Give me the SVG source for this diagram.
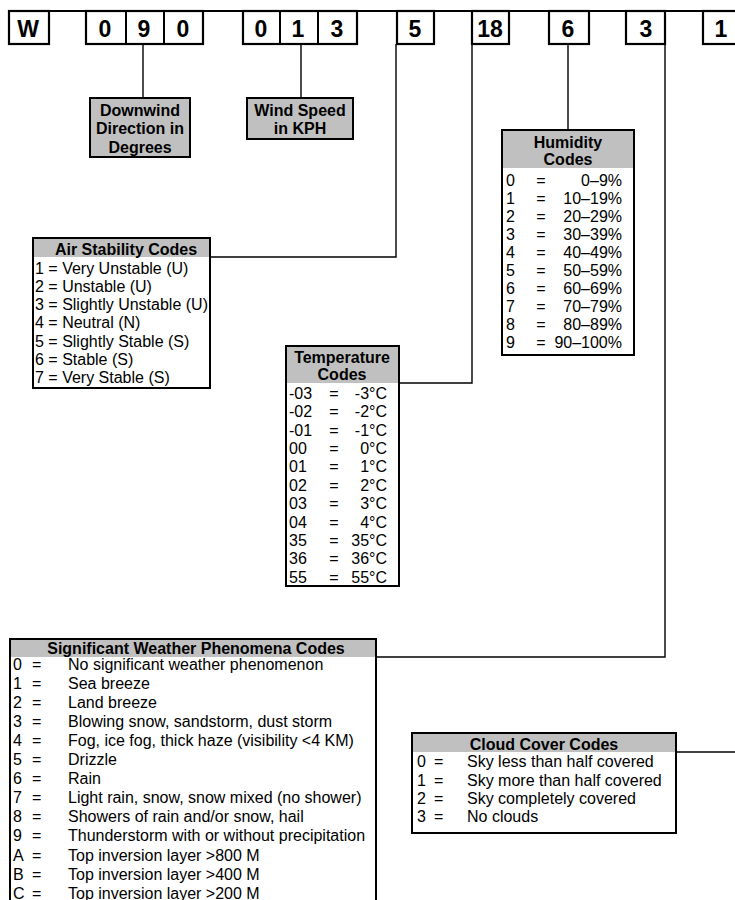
<svg xmlns="http://www.w3.org/2000/svg" width="735" height="900" viewBox="0 0 735 900">
<style>
text{font-family:"Liberation Sans",Arial,sans-serif;fill:#000}
.code{font-size:23px;font-weight:bold;text-anchor:middle}
.hdr{font-size:16px;font-weight:bold;text-anchor:middle}
.row{font-size:16px}
.end{text-anchor:end}
.mid{text-anchor:middle}
.box{fill:#fff;stroke:#000;stroke-width:2.2}
.div{stroke:#000;stroke-width:2}
.cbox{fill:#fff;stroke:#000;stroke-width:2}
.gray{fill:#c0c0c0}
.ln{fill:none;stroke:#000;stroke-width:1.4}
</style>
<rect width="735" height="900" fill="#fff"/>

<g id="code-row">
<line x1="8" y1="11" x2="735" y2="11" stroke="#000" stroke-width="2.2"/>
<rect class="box" x="9" y="11" width="40" height="33"/>
<text class="code" x="28" y="37">W</text>
<rect class="box" x="86" y="11" width="117" height="33"/>
<line class="div" x1="126" y1="11" x2="126" y2="44"/>
<line class="div" x1="164" y1="11" x2="164" y2="44"/>
<text class="code" x="105" y="37">0</text>
<text class="code" x="144" y="37">9</text>
<text class="code" x="183" y="37">0</text>
<rect class="box" x="243" y="11" width="114" height="33"/>
<line class="div" x1="280" y1="11" x2="280" y2="44"/>
<line class="div" x1="318" y1="11" x2="318" y2="44"/>
<text class="code" x="261" y="37">0</text>
<text class="code" x="298" y="37">1</text>
<text class="code" x="337" y="37">3</text>
<rect class="box" x="397" y="11" width="37" height="33"/>
<text class="code" x="415" y="37">5</text>
<rect class="box" x="472" y="11" width="37" height="33"/>
<text class="code" x="490" y="37">18</text>
<rect class="box" x="549" y="11" width="40" height="33"/>
<text class="code" x="568" y="37">6</text>
<rect class="box" x="626" y="11" width="39" height="33"/>
<text class="code" x="646" y="37">3</text>
<rect class="box" x="703" y="11" width="40" height="33"/>
<text class="code" x="721" y="37">1</text>
</g>

<g id="connectors">
<line class="ln" x1="143" y1="44" x2="143" y2="98"/>
<line class="ln" x1="301" y1="44" x2="301" y2="98"/>
<polyline class="ln" points="396,44 396,257 210,257"/>
<polyline class="ln" points="472,44 472,383 399,383"/>
<line class="ln" x1="568" y1="44" x2="568" y2="130"/>
<polyline class="ln" points="665,44 665,657 376,657"/>
<line class="ln" x1="676" y1="752" x2="735" y2="752"/>
</g>

<g id="downwind">
<rect x="90" y="98" width="100" height="59" fill="#c0c0c0" stroke="#000" stroke-width="2"/>
<text class="hdr" x="140" y="115.7">Downwind</text>
<text class="hdr" x="140" y="134.2">Direction in</text>
<text class="hdr" x="140" y="152.5">Degrees</text>
</g>

<g id="windspeed">
<rect x="247" y="98" width="106" height="41" fill="#c0c0c0" stroke="#000" stroke-width="2"/>
<text class="hdr" x="300" y="115.7">Wind Speed</text>
<text class="hdr" x="300" y="133.7">in KPH</text>
</g>

<g id="humidity">
<rect class="cbox" x="502" y="130" width="132" height="225"/>
<rect class="gray" x="503" y="131" width="130" height="37"/>
<text class="hdr" x="568" y="148">Humidity</text>
<text class="hdr" x="568" y="165">Codes</text>
<g class="row">
<text x="506" y="185.7">0</text><text x="541" y="185.7" class="mid">=</text><text x="622" y="185.7" class="end">0–9%</text>
<text x="506" y="203.7">1</text><text x="541" y="203.7" class="mid">=</text><text x="622" y="203.7" class="end">10–19%</text>
<text x="506" y="221.7">2</text><text x="541" y="221.7" class="mid">=</text><text x="622" y="221.7" class="end">20–29%</text>
<text x="506" y="239.7">3</text><text x="541" y="239.7" class="mid">=</text><text x="622" y="239.7" class="end">30–39%</text>
<text x="506" y="257.7">4</text><text x="541" y="257.7" class="mid">=</text><text x="622" y="257.7" class="end">40–49%</text>
<text x="506" y="275.7">5</text><text x="541" y="275.7" class="mid">=</text><text x="622" y="275.7" class="end">50–59%</text>
<text x="506" y="293.7">6</text><text x="541" y="293.7" class="mid">=</text><text x="622" y="293.7" class="end">60–69%</text>
<text x="506" y="311.7">7</text><text x="541" y="311.7" class="mid">=</text><text x="622" y="311.7" class="end">70–79%</text>
<text x="506" y="329.7">8</text><text x="541" y="329.7" class="mid">=</text><text x="622" y="329.7" class="end">80–89%</text>
<text x="506" y="347.7">9</text><text x="541" y="347.7" class="mid">=</text><text x="622" y="347.7" class="end">90–100%</text>
</g>
</g>

<g id="air-stability">
<rect class="cbox" x="33" y="238" width="177" height="150"/>
<rect class="gray" x="34" y="239" width="175" height="18"/>
<text class="hdr" x="126" y="254.5">Air Stability Codes</text>
<g class="row">
<text x="35" y="273.7">1 = Very Unstable (U)</text>
<text x="35" y="291.9">2 = Unstable (U)</text>
<text x="35" y="310.1">3 = Slightly Unstable (U)</text>
<text x="35" y="328.3">4 = Neutral (N)</text>
<text x="35" y="346.5">5 = Slightly Stable (S)</text>
<text x="35" y="364.7">6 = Stable (S)</text>
<text x="35" y="382.9">7 = Very Stable (S)</text>
</g>
</g>

<g id="temperature">
<rect class="cbox" x="286" y="346" width="113" height="240"/>
<rect class="gray" x="287" y="347" width="111" height="36"/>
<text class="hdr" x="342" y="362.5">Temperature</text>
<text class="hdr" x="342" y="379.5">Codes</text>
<g class="row">
<text x="289" y="398.7">-03</text><text x="334" y="398.7" class="mid">=</text><text x="387" y="398.7" class="end">-3°C</text>
<text x="289" y="417.1">-02</text><text x="334" y="417.1" class="mid">=</text><text x="387" y="417.1" class="end">-2°C</text>
<text x="289" y="435.5">-01</text><text x="334" y="435.5" class="mid">=</text><text x="387" y="435.5" class="end">-1°C</text>
<text x="289" y="453.9">00</text><text x="334" y="453.9" class="mid">=</text><text x="387" y="453.9" class="end">0°C</text>
<text x="289" y="472.3">01</text><text x="334" y="472.3" class="mid">=</text><text x="387" y="472.3" class="end">1°C</text>
<text x="289" y="490.7">02</text><text x="334" y="490.7" class="mid">=</text><text x="387" y="490.7" class="end">2°C</text>
<text x="289" y="509.1">03</text><text x="334" y="509.1" class="mid">=</text><text x="387" y="509.1" class="end">3°C</text>
<text x="289" y="527.5">04</text><text x="334" y="527.5" class="mid">=</text><text x="387" y="527.5" class="end">4°C</text>
<text x="289" y="545.9">35</text><text x="334" y="545.9" class="mid">=</text><text x="387" y="545.9" class="end">35°C</text>
<text x="289" y="564.3">36</text><text x="334" y="564.3" class="mid">=</text><text x="387" y="564.3" class="end">36°C</text>
<text x="289" y="582.7">55</text><text x="334" y="582.7" class="mid">=</text><text x="387" y="582.7" class="end">55°C</text>
</g>
</g>

<g id="weather-phenomena">
<path d="M10,905 V639 H376 V905" fill="#fff" stroke="#000" stroke-width="2"/>
<rect class="gray" x="11" y="640" width="364" height="17"/>
<text class="hdr" x="196" y="654">Significant Weather Phenomena Codes</text>
<g class="row">
<text x="13" y="669.5">0</text><text x="32" y="669.5">=</text><text x="68" y="669.5">No significant weather phenomenon</text>
<text x="13" y="688.6">1</text><text x="32" y="688.6">=</text><text x="68" y="688.6">Sea breeze</text>
<text x="13" y="707.7">2</text><text x="32" y="707.7">=</text><text x="68" y="707.7">Land breeze</text>
<text x="13" y="726.8">3</text><text x="32" y="726.8">=</text><text x="68" y="726.8">Blowing snow, sandstorm, dust storm</text>
<text x="13" y="745.9">4</text><text x="32" y="745.9">=</text><text x="68" y="745.9">Fog, ice fog, thick haze (visibility &lt;4 KM)</text>
<text x="13" y="765">5</text><text x="32" y="765">=</text><text x="68" y="765">Drizzle</text>
<text x="13" y="784.1">6</text><text x="32" y="784.1">=</text><text x="68" y="784.1">Rain</text>
<text x="13" y="803.2">7</text><text x="32" y="803.2">=</text><text x="68" y="803.2">Light rain, snow, snow mixed (no shower)</text>
<text x="13" y="822.3">8</text><text x="32" y="822.3">=</text><text x="68" y="822.3">Showers of rain and/or snow, hail</text>
<text x="13" y="841.4">9</text><text x="32" y="841.4">=</text><text x="68" y="841.4">Thunderstorm with or without precipitation</text>
<text x="13" y="860.5">A</text><text x="32" y="860.5">=</text><text x="68" y="860.5">Top inversion layer &gt;800 M</text>
<text x="13" y="879.6">B</text><text x="32" y="879.6">=</text><text x="68" y="879.6">Top inversion layer &gt;400 M</text>
<text x="13" y="898.7">C</text><text x="32" y="898.7">=</text><text x="68" y="898.7">Top inversion layer &gt;200 M</text>
</g>
</g>

<g id="cloud-cover">
<rect class="cbox" x="412" y="733" width="264" height="100"/>
<rect class="gray" x="413" y="734" width="262" height="18"/>
<text class="hdr" x="544" y="749.5">Cloud Cover Codes</text>
<g class="row">
<text x="417" y="767.2">0</text><text x="434" y="767.2">=</text><text x="467" y="767.2">Sky less than half covered</text>
<text x="417" y="785.5">1</text><text x="434" y="785.5">=</text><text x="467" y="785.5">Sky more than half covered</text>
<text x="417" y="803.8">2</text><text x="434" y="803.8">=</text><text x="467" y="803.8">Sky completely covered</text>
<text x="417" y="822.1">3</text><text x="434" y="822.1">=</text><text x="467" y="822.1">No clouds</text>
</g>
</g>
</svg>
